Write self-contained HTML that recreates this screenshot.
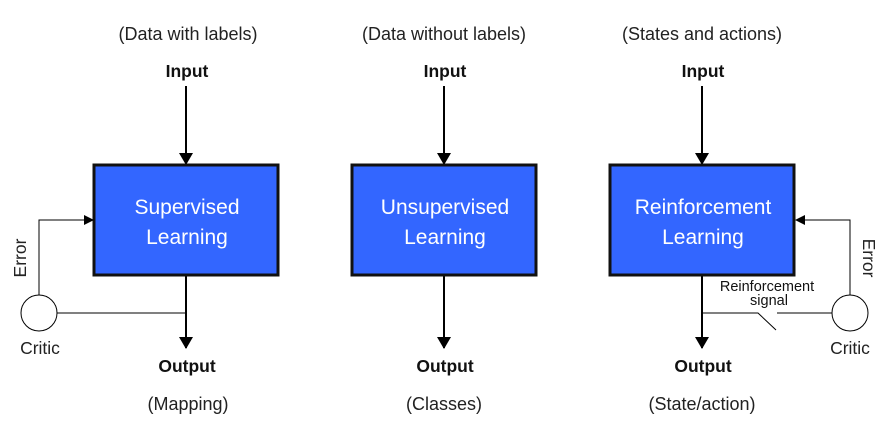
<!DOCTYPE html>
<html><head><style>
body{margin:0;background:#fff;}
svg{display:block;font-family:"Liberation Sans",sans-serif;}
</style></head><body>
<svg width="893" height="447" viewBox="0 0 893 447">
<defs><marker id="a" markerWidth="10" markerHeight="10" refX="9" refY="5" orient="auto" markerUnits="userSpaceOnUse"><path d="M0,0 L10,5 L0,10 z" fill="#000"/></marker>
<marker id="b" markerWidth="12" markerHeight="14" refX="11" refY="7" orient="auto" markerUnits="userSpaceOnUse"><path d="M0,0 L12,7 L0,14 z" fill="#000"/></marker></defs>
<g font-size="18" fill="#222" text-anchor="middle">
<text x="188" y="40">(Data with labels)</text>
<text x="444" y="40">(Data without labels)</text>
<text x="702" y="40">(States and actions)</text>
<text x="188" y="410">(Mapping)</text>
<text x="444" y="410">(Classes)</text>
<text x="702" y="410">(State/action)</text>
</g>
<g font-size="17.5" font-weight="bold" fill="#111" text-anchor="middle">
<text x="187" y="77">Input</text><text x="445" y="77">Input</text><text x="703" y="77">Input</text>
<text x="187" y="372">Output</text><text x="445" y="372">Output</text><text x="703" y="372">Output</text>
</g>
<g stroke="#000" stroke-width="2">
<line x1="186" y1="86" x2="186" y2="164" marker-end="url(#b)"/>
<line x1="444" y1="86" x2="444" y2="164" marker-end="url(#b)"/>
<line x1="702" y1="86" x2="702" y2="164" marker-end="url(#b)"/>
<line x1="186" y1="276" x2="186" y2="348" marker-end="url(#b)"/>
<line x1="444" y1="276" x2="444" y2="348" marker-end="url(#b)"/>
<line x1="702" y1="276" x2="702" y2="348" marker-end="url(#b)"/>
</g>
<g fill="#3366ff" stroke="#111" stroke-width="3">
<rect x="94" y="165" width="184" height="110"/>
<rect x="352" y="165" width="184" height="110"/>
<rect x="610" y="165" width="184" height="110"/>
</g>
<g font-size="21" fill="#fff" text-anchor="middle">
<text x="187" y="214">Supervised</text><text x="187" y="244">Learning</text>
<text x="445" y="214">Unsupervised</text><text x="445" y="244">Learning</text>
<text x="703" y="214">Reinforcement</text><text x="703" y="244">Learning</text>
</g>
<g stroke="#000" stroke-width="1" fill="none">
<polyline points="39,295 39,220 93,220" marker-end="url(#a)"/>
<line x1="57" y1="313" x2="186" y2="313"/>
<circle cx="39" cy="313" r="18" fill="#fff"/>
<polyline points="850,295 850,220 796,220" marker-end="url(#a)"/>
<line x1="832" y1="313" x2="777" y2="313"/>
<polyline points="702,313 758,313 776,330"/>
<circle cx="850" cy="313" r="18" fill="#fff"/>
</g>
<g font-size="17.5" fill="#222" text-anchor="middle">
<text x="40" y="354">Critic</text><text x="850" y="354">Critic</text>
<text transform="translate(26,258) rotate(-90)">Error</text>
<text transform="translate(863,258) rotate(90)">Error</text>
</g>
<g font-size="14.5" fill="#111" text-anchor="middle">
<text x="767" y="291">Reinforcement</text><text x="769" y="305">signal</text>
</g>
</svg>
</body></html>
